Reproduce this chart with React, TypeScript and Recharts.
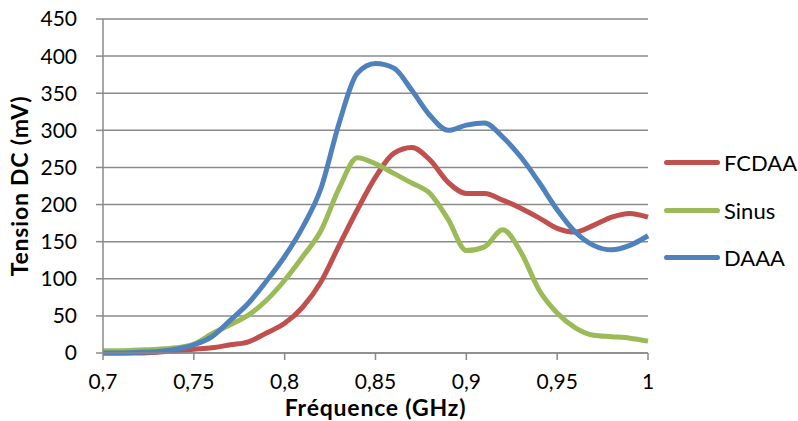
import React from 'react';
import { LineChart, Line, XAxis, YAxis, CartesianGrid, Label } from 'recharts';

// frequency in GHz, step 0.01
const freqs = [
  0.7, 0.71, 0.72, 0.73, 0.74, 0.75, 0.76, 0.77, 0.78, 0.79, 0.8, 0.81, 0.82, 0.83, 0.84, 0.85,
  0.86, 0.87, 0.88, 0.89, 0.9, 0.91, 0.92, 0.93, 0.94, 0.95, 0.96, 0.97, 0.98, 0.99, 1.0,
];

// tension DC in mV
const fcdaa = [
  0, 0, 0, 1, 3, 5, 7, 11, 15, 27, 40, 62, 96, 145, 193, 237,
  269, 277, 260, 230, 215, 215, 206, 195, 182, 168, 163, 172, 183, 188, 183,
];
const sinus = [
  3, 3, 4, 5, 7, 12, 26, 38, 51, 71, 98, 130, 165, 222, 263, 255,
  242, 229, 215, 180, 138, 143, 166, 136, 85, 54, 34, 24, 22, 20, 16,
];
const daaa = [
  0, 0, 1, 2, 5, 11, 22, 44, 67, 97, 130, 170, 222, 310, 377, 390,
  384, 354, 320, 300, 307, 310, 291, 264, 230, 193, 163, 145, 139, 145, 158,
];

const xTicks = [0.7, 0.75, 0.8, 0.85, 0.9, 0.95, 1];
const yTicks = [0, 50, 100, 150, 200, 250, 300, 350, 400, 450];

const seriesNames = ['FCDAA', 'Sinus', 'DAAA'];
const seriesColors = ['#C0504D', '#9BBB59', '#4F81BD'];

const data = freqs.map((f, i) => ({ f, FCDAA: fcdaa[i], Sinus: sinus[i], DAAA: daaa[i] }));

const font = 'Lato, "Open Sans", sans-serif';
const gridColor = '#8a8a8a';
const titleStyle = { fill: '#000', fontSize: 23, fontWeight: 700, fontFamily: font, letterSpacing: 0.8 };

export default function App() {
  return (
    <div style={{ position: 'absolute', left: 0, top: 0, width: 798, height: 421, background: '#fff' }}>
      <LineChart width={798} height={421} data={data} margin={{ top: 19, right: 150, bottom: 0, left: 0 }}>
        <CartesianGrid vertical={false} stroke={gridColor} strokeWidth={1.5} />
        <XAxis
          dataKey="f"
          type="number"
          domain={[0.7, 1]}
          ticks={xTicks}
          interval={0}
          height={68}
          tickSize={7}
          tickMargin={14}
          stroke={gridColor}
          strokeWidth={1.5}
          tick={{ fill: '#000', fontSize: 21, fontFamily: font }}
          tickFormatter={(v: number) => String(v).replace('.', ',')}
        >
          <Label value="Fréquence (GHz)" position="insideBottom" offset={5} style={titleStyle} />
        </XAxis>
        <YAxis
          domain={[0, 450]}
          ticks={yTicks}
          interval={0}
          width={103}
          tickSize={7}
          tickMargin={19}
          stroke={gridColor}
          strokeWidth={1.5}
          tick={{ fill: '#000', fontSize: 21, fontFamily: font }}
        >
          <Label
            value="Tension DC (mV)"
            angle={-90}
            position="insideLeft"
            offset={20}
            style={{ ...titleStyle, textAnchor: 'middle' }}
          />
        </YAxis>
        {seriesNames.map((name, i) => (
          <Line
            key={name}
            type="monotone"
            dataKey={name}
            stroke={seriesColors[i]}
            strokeWidth={5}
            dot={false}
            activeDot={false}
            isAnimationActive={false}
          />
        ))}
      </LineChart>
      <div style={{ position: 'absolute', left: 664, top: 139, fontFamily: font, fontSize: 22, color: '#000' }}>
        {seriesNames.map((name, i) => (
          <div key={name} style={{ display: 'flex', alignItems: 'center', height: 47.5 }}>
            <div style={{ width: 56, height: 5, borderRadius: 3, background: seriesColors[i], marginRight: 4 }} />
            <span>{name}</span>
          </div>
        ))}
      </div>
    </div>
  );
}
